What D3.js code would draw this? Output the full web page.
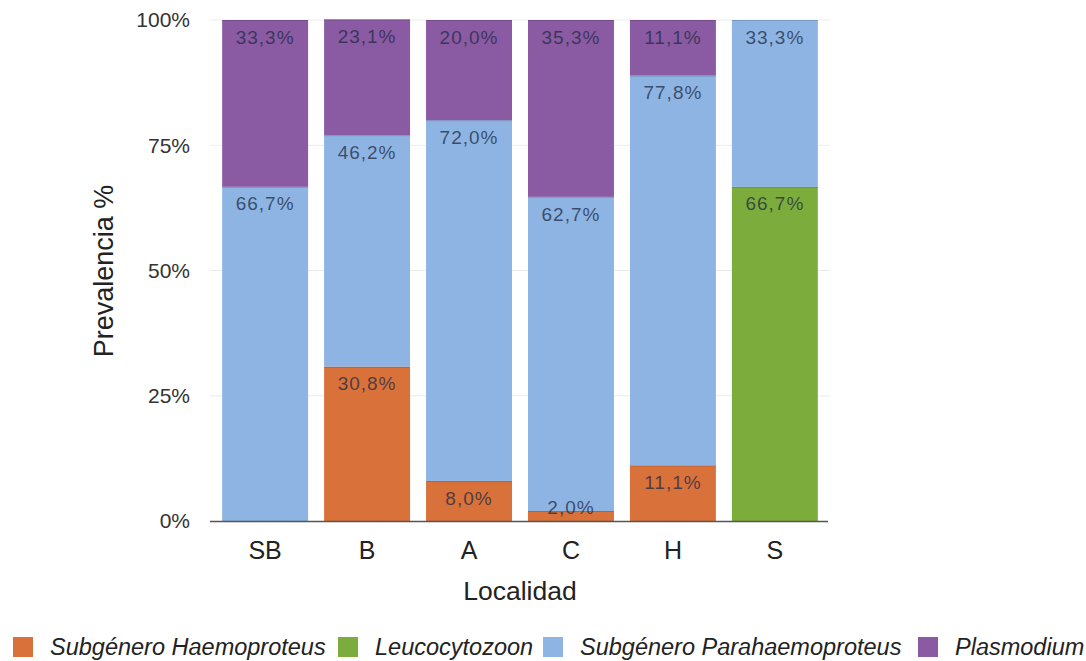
<!DOCTYPE html>
<html><head><meta charset="utf-8">
<script src="https://cdn.jsdelivr.net/npm/d3@7"></script>
<style>body{margin:0;background:#fff;font-family:"Liberation Sans",Arial,sans-serif;}</style>
</head><body>
<svg id="c" width="1086" height="661"></svg>
<script>
const categories = ["SB","B","A","C","H","S"];
const seriesNames = ["Subgénero Haemoproteus","Leucocytozoon","Subgénero Parahaemoproteus","Plasmodium"];
const haemoproteus = [0, 30.8, 8.0, 2.0, 11.1, 0];
const leucocytozoon = [0, 0, 0, 0, 0, 66.7];
const parahaemoproteus = [66.7, 46.2, 72.0, 62.7, 77.8, 33.3];
const plasmodium = [33.3, 23.1, 20.0, 35.3, 11.1, 0];
const yTicks = [0, 25, 50, 75, 100];
const colors = ["#d9713a","#7cad3c","#8db4e2","#8a5aa3"];

const seriesVals = [haemoproteus, leucocytozoon, parahaemoproteus, plasmodium];
const rows = categories.map((c,i)=>{const r={cat:c}; seriesNames.forEach((s,j)=>r[s]=seriesVals[j][i]); return r;});
const stack = d3.stack().keys(seriesNames)(rows);

const svg = d3.select("#c");
const x = d3.scaleBand().domain(categories).range([214,826]).paddingInner(0.157).paddingOuter(0.08);
const y = d3.scaleLinear().domain([0,100]).range([521,20]);

// grid
svg.append("g").selectAll("line").data(yTicks.filter(t=>t>0)).join("line")
  .attr("x1",210).attr("x2",830).attr("y1",d=>y(d)).attr("y2",d=>y(d))
  .attr("stroke","#ececec").attr("stroke-width",1);

// y tick labels
svg.append("g").selectAll("text").data(yTicks).join("text")
  .attr("x",190).attr("y",d=>y(d)).attr("dy","0.35em").attr("text-anchor","end")
  .attr("font-size",21).attr("fill","#333").text(d=>d+"%");

// bars
const g = svg.append("g");
stack.forEach((layer,j)=>{
  layer.forEach((d,i)=>{
    const v = d[1]-d[0];
    if(v<=0) return;
    const cat = categories[i];
    g.append("rect").attr("x",x(cat)).attr("width",x.bandwidth())
      .attr("y",y(d[1])).attr("height",y(d[0])-y(d[1])).attr("fill",colors[j]);
    g.append("line").attr("x1",x(cat)).attr("x2",x(cat)+x.bandwidth())
      .attr("y1",y(d[1])+0.5).attr("y2",y(d[1])+0.5)
      .attr("stroke",d3.color(colors[j]).darker(0.8)).attr("stroke-opacity",0.6);
  });
});
// labels
stack.forEach((layer,j)=>{
  layer.forEach((d,i)=>{
    const v = d[1]-d[0];
    if(v<=0) return;
    const cat = categories[i];
    const ly = Math.min(y(d[1])+17, y(d[0])-14);
    g.append("text").attr("x",x(cat)+x.bandwidth()/2).attr("y",ly).attr("dy","0.35em")
      .attr("text-anchor","middle").attr("font-size",19).attr("letter-spacing","1px")
      .attr("fill","#1e2a44").attr("fill-opacity",0.75)
      .text(v.toFixed(1).replace(".",",")+"%");
  });
});

// x axis line
svg.append("line").attr("x1",210).attr("x2",828).attr("y1",521.5).attr("y2",521.5)
  .attr("stroke","#555").attr("stroke-width",1.5);
svg.append("g").selectAll("text").data(categories).join("text")
  .attr("x",d=>x(d)+x.bandwidth()/2).attr("y",550).attr("dy","0.35em").attr("text-anchor","middle")
  .attr("font-size",25).attr("fill","#222").text(d=>d);

svg.append("text").attr("x",520).attr("y",591).attr("dy","0.35em").attr("text-anchor","middle")
  .attr("font-size",26.5).attr("fill","#222").text("Localidad");
svg.append("text").attr("transform","translate(104,271) rotate(-90)").attr("dy","0.35em")
  .attr("text-anchor","middle").attr("font-size",27).attr("fill","#222").text("Prevalencia %");

// legend
const legX = [13, 338, 543, 918];
const lg = svg.append("g");
seriesNames.forEach((s,j)=>{
  lg.append("rect").attr("x",legX[j]).attr("y",637).attr("width",20).attr("height",20).attr("fill",colors[j]);
  lg.append("text").attr("x",legX[j]+37).attr("y",647).attr("dy","0.35em").attr("font-size",23.5)
    .attr("font-style","italic").attr("fill","#222").text(s);
});
</script>
</body></html>
